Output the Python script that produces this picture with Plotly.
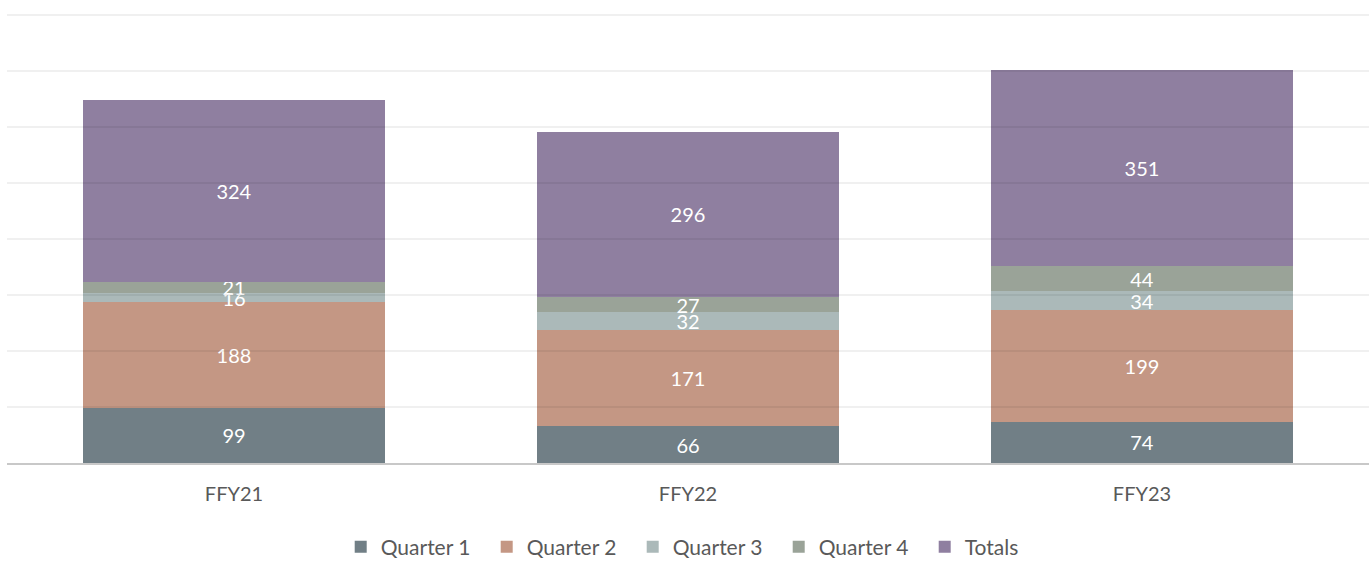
import plotly.graph_objects as go

categories = ["FFY21", "FFY22", "FFY23"]
quarter1 = [99, 66, 74]
quarter2 = [188, 171, 199]
quarter3 = [16, 32, 34]
quarter4 = [21, 27, 44]
totals = [324, 296, 351]
grid_values = [100, 200, 300, 400, 500, 600, 700, 800]

series = [
    ("Quarter 1", quarter1, "#717F86"),
    ("Quarter 2", quarter2, "#C49784"),
    ("Quarter 3", quarter3, "#ABB9B9"),
    ("Quarter 4", quarter4, "#9AA398"),
    ("Totals", totals, "#8F7FA0"),
]

fig = go.Figure()
for name, vals, color in series:
    fig.add_trace(go.Bar(
        x=categories, y=vals, name=name,
        marker=dict(color=color, line=dict(width=0)),
        text=[str(v) for v in vals],
        textposition="inside",
        insidetextanchor="middle",
        textangle=0,
        textfont=dict(color="white", size=20),
        constraintext="none",
    ))

for g in grid_values:
    fig.add_shape(type="line", xref="paper", yref="y", x0=0, x1=1, y0=g, y1=g,
                  line=dict(color="rgba(0,0,0,0.08)", width=1.5), layer="above")

fig.update_layout(
    barmode="stack",
    bargap=0.335,
    width=1372, height=561,
    margin=dict(l=7, r=3, t=14, b=98),
    paper_bgcolor="white",
    plot_bgcolor="white",
    font=dict(family="Lato, Carlito, 'Open Sans', sans-serif", color="#595959", size=20),
    uniformtext=dict(minsize=20, mode="show"),
    showlegend=True,
    legend=dict(orientation="h", x=0.513, xanchor="center",
                yref="container", y=1 - 547 / 561, yanchor="middle",
                font=dict(size=21, color="#595959"), traceorder="normal",
                entrywidth=101, entrywidthmode="pixels"),
    xaxis=dict(showline=True, linecolor="#c8c8c8", linewidth=1.5, ticks="",
               tickfont=dict(size=20, color="#595959"), ticklabelstandoff=12,
               automargin=False),
    yaxis=dict(range=[0, 802], dtick=100, showticklabels=False,
               showgrid=False, zeroline=False, automargin=False),
)

fig.write_html("out.html", post_script="document.body.style.margin='0';",
               config={"displayModeBar": False})
